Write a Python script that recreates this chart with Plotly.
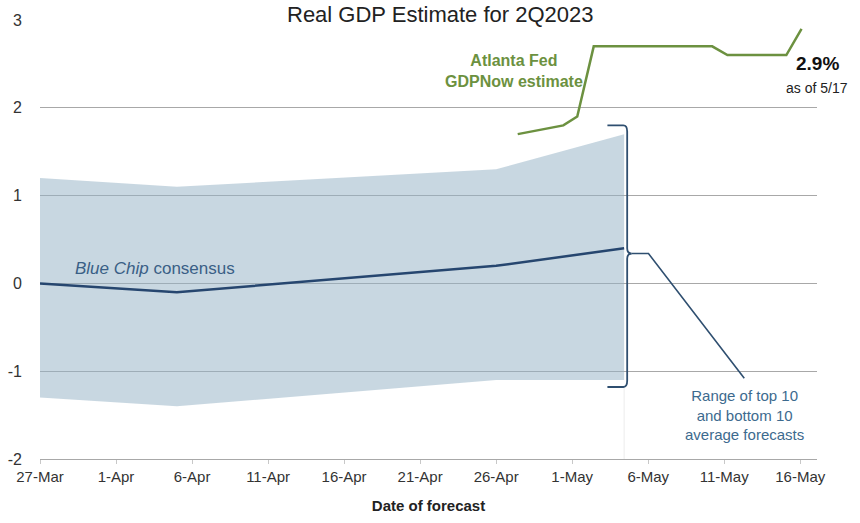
import pandas as pd
import plotly.graph_objects as go

# ---------------- data ----------------
start = pd.Timestamp("2023-03-27")
tick_labels = ["27-Mar", "1-Apr", "6-Apr", "11-Apr", "16-Apr", "21-Apr",
               "26-Apr", "1-May", "6-May", "11-May", "16-May"]
tick_days = [0, 5, 10, 15, 20, 25, 30, 35, 40, 45, 50]

band_dates = ["2023-03-27", "2023-04-05", "2023-04-26", "2023-05-04 10:00"]
band_upper = [1.2, 1.1, 1.3, 1.7]
band_lower = [-1.3, -1.4, -1.1, -1.1]

bc_dates = ["2023-03-27", "2023-04-05", "2023-04-26", "2023-05-04 10:00"]
bc_values = [0.0, -0.1, 0.2, 0.4]

gdpnow_dates = ["2023-04-27 10:00", "2023-04-30 10:00", "2023-05-01 08:00",
                "2023-05-02 10:00", "2023-05-10 05:00", "2023-05-11 05:00",
                "2023-05-15 02:00", "2023-05-16 02:00"]
gdpnow_values = [1.7, 1.8, 1.9, 2.7, 2.7, 2.6, 2.6, 2.9]


def to_days(dates):
    return [(pd.Timestamp(d) - start) / pd.Timedelta(days=1) for d in dates]


band_x = to_days(band_dates)
bc_x = to_days(bc_dates)
gn_x = to_days(gdpnow_dates)

BAND = "rgba(150,178,198,0.52)"
BLUE = "#26466f"
GREEN = "#6c9140"
NOTE = "#3d6a8e"
GRID = "#a8a8a8"
FONT = "Liberation Sans Narrow, Liberation Sans, Arial"

fig = go.Figure()

# range band
fig.add_trace(go.Scatter(x=band_x, y=band_upper, mode="lines",
                         line=dict(width=0), hoverinfo="skip", showlegend=False))
fig.add_trace(go.Scatter(x=band_x, y=band_lower, mode="lines",
                         line=dict(width=0), fill="tonexty", fillcolor=BAND,
                         hoverinfo="skip", showlegend=False))
# blue chip consensus
fig.add_trace(go.Scatter(x=bc_x, y=bc_values, mode="lines",
                         line=dict(color=BLUE, width=2.5), showlegend=False))
# GDPNow
fig.add_trace(go.Scatter(x=gn_x, y=gdpnow_values, mode="lines",
                         line=dict(color=GREEN, width=2.5), showlegend=False))

# bracket derived from the band end
bx_end = band_x[-1]
top = band_upper[-1] + 0.1
bot = band_lower[-1] - 0.08
mid = bc_values[-1] - 0.06
xv = bx_end + 0.2
xl = bx_end - 1.1
xp = bx_end + 0.5
path = (f"M {xl},{top} L {xv-0.25},{top} Q {xv},{top} {xv},{top-0.07} "
        f"L {xv},{mid+0.06} Q {xv},{mid} {xp},{mid} "
        f"Q {xv},{mid} {xv},{mid-0.06} "
        f"L {xv},{bot+0.07} Q {xv},{bot} {xv-0.25},{bot} L {xl},{bot}")
fig.add_shape(type="path", path=path, xref="x", yref="y",
              line=dict(color="#2f4f70", width=1.8))
# faint guide below the bracket
fig.add_shape(type="line", x0=bx_end, x1=bx_end, y0=bot, y1=-2, xref="x", yref="y",
              line=dict(color="#ececec", width=1), layer="below")
# leader line to note
fig.add_shape(type="path",
              path=f"M {xp},{mid} L {xp+1.1},{mid} L {bx_end+7.9},{bot+0.1}",
              xref="x", yref="y", line=dict(color="#2f4f70", width=1.6))

fig.add_annotation(x=bx_end + 7.9, y=bot + 0.02, xref="x", yref="y",
                   text="Range of top 10<br>and bottom 10<br>average forecasts",
                   showarrow=False, xanchor="center", yanchor="top",
                   font=dict(family=FONT, size=15, color=NOTE), align="center")

fig.add_annotation(x=2.2, y=0.04, xref="x", yref="y",
                   text="<i>Blue Chip</i> consensus", showarrow=False,
                   xanchor="left", yanchor="bottom",
                   font=dict(family=FONT, size=17, color="#3a5f86"))

fig.add_annotation(x=31.2, y=2.42, xref="x", yref="y",
                   text="<b>Atlanta Fed<br>GDPNow estimate</b>", showarrow=False,
                   xanchor="center", yanchor="middle",
                   font=dict(family=FONT, size=16, color=GREEN), align="center")

fig.add_annotation(x=51.1, y=2.5, xref="x", yref="y",
                   text="<b>2.9%</b>", showarrow=False,
                   xanchor="center", yanchor="middle",
                   font=dict(family="Liberation Sans, Arial", size=19, color="#111111"))
fig.add_annotation(x=51.1, y=2.23, xref="x", yref="y",
                   text="as of 5/17", showarrow=False,
                   xanchor="center", yanchor="middle",
                   font=dict(family="Liberation Sans, Arial", size=14, color="#222222"))

fig.add_annotation(x=0.515, y=1.0456, xref="paper", yref="paper",
                   text="Real GDP Estimate for 2Q2023", showarrow=False,
                   xanchor="center", yanchor="top",
                   font=dict(family="Liberation Sans, Arial", size=22, color="#222222"))

fig.update_layout(
    width=860, height=523,
    margin=dict(l=40, r=43, t=20, b=64, autoexpand=False),
    plot_bgcolor="white", paper_bgcolor="white",
    xaxis=dict(range=[0, 51.1], tickvals=tick_days, ticktext=tick_labels,
               automargin=False,
               showgrid=False, zeroline=False, showline=True, linecolor=GRID,
               ticks="outside", ticklen=4, tickcolor="#c8c8c8",
               tickfont=dict(family=FONT, size=15, color="#333333"),
               title=dict(text="<b>Date of forecast</b>", standoff=16,
                          font=dict(family=FONT, size=15, color="#222222"))),
    yaxis=dict(range=[-2, 3], tickvals=[-2, -1, 0, 1, 2, 3], ticktext=["-2", "-1", "0", "1", "2", "3"],
               automargin=False,
               showgrid=True, gridcolor=GRID, gridwidth=1, zeroline=False,
               showline=False, ticklabelstandoff=17,
               tickfont=dict(family="Liberation Sans, Arial", size=16, color="#333333")),
    showlegend=False,
)

fig.write_html("out.html")
